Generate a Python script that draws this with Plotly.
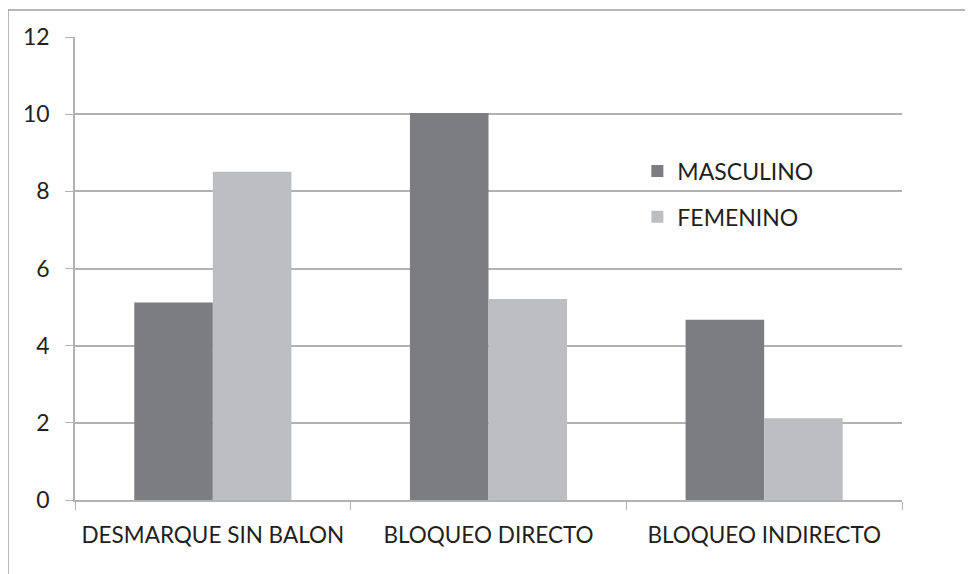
import plotly.graph_objects as go

# Datos
categorias = ["DESMARQUE SIN BALON", "BLOQUEO DIRECTO", "BLOQUEO INDIRECTO"]
masculino = [5.12, 10.03, 4.67]
femenino = [8.51, 5.21, 2.12]
y_ticks = [0, 2, 4, 6, 8, 10, 12]

COLOR_M = "#7c7d81"
COLOR_F = "#bdbec2"
TEXTO = "#231f20"
GRID = "#b2b2b2"

# la página tiene un margen de 8px, se compensa aquí
W, H = 965, 566
L, T, PW, PH = 67, 29, 827, 463

fig = go.Figure()
fig.add_trace(go.Bar(name="MASCULINO", x=categorias, y=masculino,
                     marker=dict(color=COLOR_M, line=dict(width=0)),
                     legendgroup="m"))
fig.add_trace(go.Bar(name="FEMENINO", x=categorias, y=femenino,
                     marker=dict(color=COLOR_F, line=dict(width=0)),
                     legendgroup="f"))

fig.update_layout(
    width=W, height=H,
    margin=dict(l=L, r=W - L - PW, t=T, b=H - T - PH),
    paper_bgcolor="white", plot_bgcolor="white",
    font=dict(family="Lato", size=23, color=TEXTO),
    barmode="group", bargap=0.43, bargroupgap=0,
    legend=dict(x=0.68, y=0.757, xanchor="left", yanchor="top",
                bgcolor="rgba(0,0,0,0)", tracegroupgap=13,
                font=dict(size=23), itemwidth=30),
    xaxis=dict(showgrid=False, tickson="boundaries", ticks="outside",
               ticklen=8, tickcolor=GRID, showline=True, linecolor=GRID,
               linewidth=1.5, ticklabelstandoff=14, tickangle=0,
               tickfont=dict(size=22.5)),
    yaxis=dict(range=[0, 12], tickvals=y_ticks, showgrid=True,
               gridcolor=GRID, gridwidth=1.5, ticks="outside", ticklen=8,
               tickcolor=GRID, showline=True, linecolor=GRID, linewidth=1.5,
               zeroline=False, ticklabelstandoff=11),
    shapes=[dict(type="rect", xref="paper", yref="paper",
                 x0=-L / PW, x1=1.2, y0=-0.3, y1=1 + (T - 2) / PH,
                 line=dict(color="#a0a0a0", width=1.5), layer="below")],
)

fig.write_html("out.html")
